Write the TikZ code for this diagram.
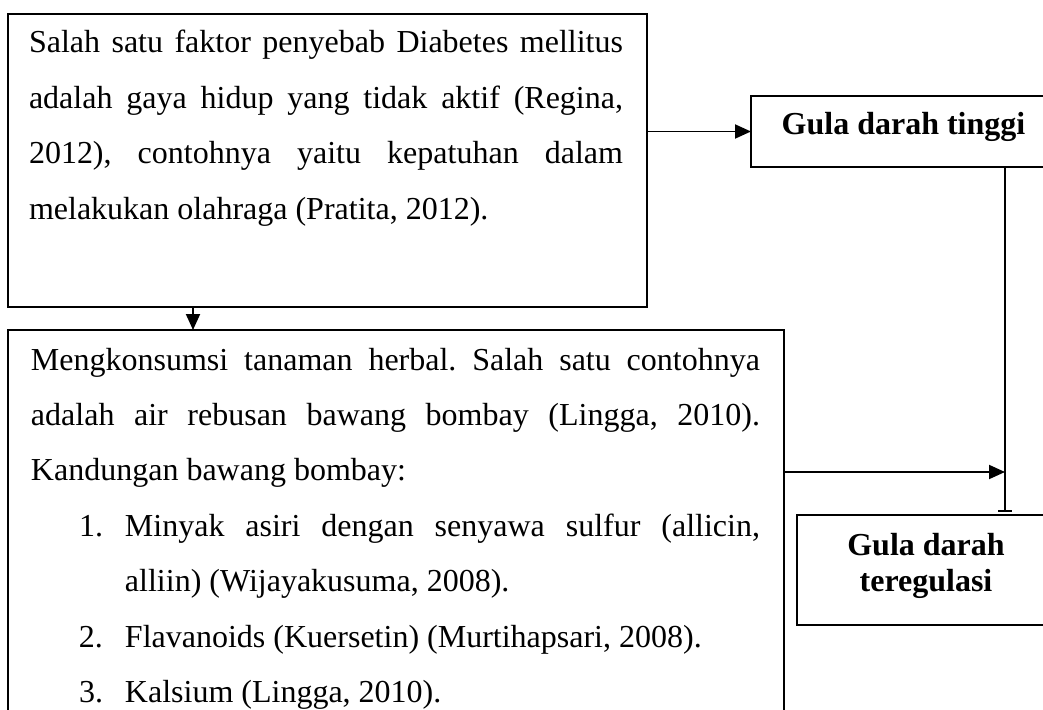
\documentclass[tikz,border=0pt]{standalone}
\usepackage{fontspec}
\setmainfont{Liberation Serif}
\usetikzlibrary{arrows.meta,positioning}
\newcommand{\px}{0.75pt}
\newcommand{\jline}[2]{\makebox[#1][s]{#2}}
\frenchspacing

\begin{document}
\begin{tikzpicture}[x=\px, y=-\px, line width=1.4pt,
  box/.style={draw, inner sep=0pt, outer sep=0pt},
  para/.style={inner sep=0pt, outer sep=0pt, anchor=base west, font=\fontsize{24}{41.6}\selectfont},
  boldlabel/.style={inner sep=0pt, anchor=base, align=center, font=\fontsize{24}{27}\selectfont\bfseries},
  arr/.style={-{Triangle[length=12pt,width=10.5pt]}},
  stopbar/.style={-{Bar[width=10pt]}, shorten >=2pt}]
  \useasboundingbox (0,0) rectangle (1043,710);
  \clip (0,0) rectangle (1043,710);
  \node[box, minimum width=639*\px, minimum height=293*\px] (faktor) at (327.5,160.5) {};
  \node[box, minimum width=776*\px, minimum height=400*\px] (herbal) at (396,530) {};
  \node[box, minimum width=305*\px, minimum height=71*\px] (tinggi) at (903.5,131.5) {};
  \node[box, minimum width=259*\px, minimum height=110*\px] (regulasi) at (926.5,570) {};
  \node[para] (faktortext) at (29,53) {\parbox[t]{445.5pt}{%
    \jline{\linewidth}{Salah satu faktor penyebab Diabetes mellitus}\\
    \jline{\linewidth}{adalah gaya hidup yang tidak aktif (Regina,}\\
    \jline{\linewidth}{2012), contohnya yaitu kepatuhan dalam}\\
    melakukan olahraga (Pratita, 2012).}};
  \node[para] (herbaltext) at (31,370) {\parbox[t]{546.75pt}{%
    \jline{\linewidth}{Mengkonsumsi tanaman herbal. Salah satu contohnya}\\
    \jline{\linewidth}{adalah air rebusan bawang bombay (Lingga, 2010).}\\
    Kandungan bawang bombay:\\
    \hspace*{36pt}\makebox[34.5pt][l]{1.}\jline{476.25pt}{Minyak asiri dengan senyawa sulfur (allicin,}\\
    \hspace*{70.5pt}alliin) (Wijayakusuma, 2008).\\
    \hspace*{36pt}\makebox[34.5pt][l]{2.}Flavanoids (Kuersetin) (Murtihapsari, 2008).\\
    \hspace*{36pt}\makebox[34.5pt][l]{3.}Kalsium (Lingga, 2010).}};
  \node[boldlabel] (tinggitext) at (903.5,135) {Gula darah tinggi};
  \node[boldlabel] (regulasitext) at (926,591) {Gula darah\\teregulasi};
  \coordinate (drop) at (faktor.south -| 193,0);
  \draw[arr] (drop) -- (drop |- herbal.north);
  \draw[arr] (faktor.east |- tinggi.west) -- (tinggi.west);
  \coordinate (down) at (tinggi.south -| 1005,0);
  \draw[stopbar] (down) -- (down |- regulasi.north);
  \coordinate (side) at (herbal.east |- 0,472);
  \draw[arr] (side) -- (side -| down);
\end{tikzpicture}
\end{document}
